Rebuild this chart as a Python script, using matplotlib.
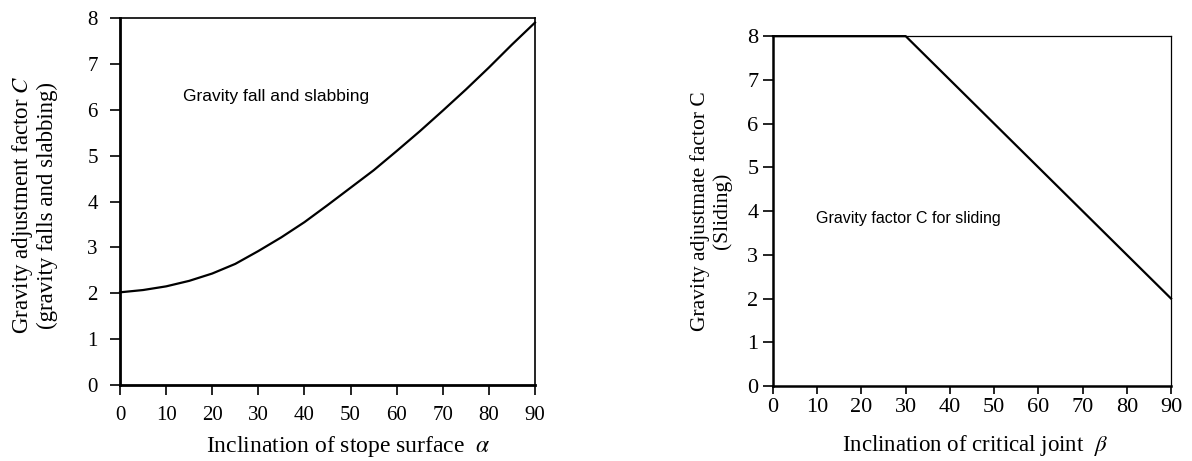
import matplotlib
matplotlib.use("Agg")
import matplotlib.pyplot as plt

plt.rcParams['font.family'] = ['Liberation Serif', 'DejaVu Serif']
plt.rcParams['mathtext.fontset'] = 'stix'

# gravity fall / slabbing curve: C against stope surface inclination
alpha = [0, 5, 10, 15, 20, 25, 30, 35, 40, 45, 50, 55, 60, 65, 70, 75, 80, 85, 90]
c_fall = [2.02, 2.07, 2.15, 2.27, 2.43, 2.64, 2.92, 3.22, 3.55, 3.92, 4.30,
          4.68, 5.10, 5.53, 5.98, 6.44, 6.92, 7.42, 7.90]

# sliding: C against critical joint inclination
beta = [0, 30, 90]
c_slide = [8.0, 8.0, 2.0]

x_ticks = list(range(0, 91, 10))
y_ticks = list(range(0, 9))

fig = plt.figure(figsize=(11.92, 4.61), dpi=100)
ax1 = fig.add_axes([0.1007, 0.1649, 0.3481, 0.796])
ax2 = fig.add_axes([0.6485, 0.1627, 0.3339, 0.7589])


def style_axes(ax, thick, thin, tick_len_x, pad_x, tick_len_y, pad_y, size):
    ax.set_xlim(0, 90)
    ax.set_ylim(0, 8)
    ax.set_xticks(x_ticks)
    ax.set_yticks(y_ticks)
    for side in ('left', 'bottom'):
        ax.spines[side].set_linewidth(thick)
    for side in ('top', 'right'):
        ax.spines[side].set_linewidth(thin)
    ax.tick_params(axis='x', direction='out', length=tick_len_x, width=1.2,
                   pad=pad_x, labelsize=size)
    ax.tick_params(axis='y', direction='out', length=tick_len_y, width=1.2,
                   pad=pad_y, labelsize=size)


style_axes(ax1, 2.0, 1.2, 7, 8, 7, 9, 15)
style_axes(ax2, 1.8, 0.9, 6, 2.5, 7, 3.5, 16)

ax1.plot(alpha, c_fall, color='black', lw=1.6, clip_on=False)
ax1.text(13.7, 6.3, 'Gravity fall and slabbing', family='Liberation Sans',
         fontsize=12.5, va='center', ha='left')
ax1.set_xlabel(r'Inclination of stope surface  $\alpha$', fontsize=17, va='center')
ax1.xaxis.set_label_coords(0.55, -0.169)
ax1.set_ylabel('Gravity adjustment factor $C$\n(gravity falls and slabbing)',
               fontsize=16.5, va='center', multialignment='center', linespacing=1.1)
ax1.yaxis.set_label_coords(-0.207, 0.49)

ax2.plot(beta, c_slide, color='black', lw=1.6, clip_on=False)
ax2.text(9.7, 3.83, 'Gravity factor C for sliding', family='Liberation Sans',
         fontsize=11.5, va='center', ha='left')
ax2.set_xlabel(r'Inclination of critical joint  $\beta$', fontsize=16.5, va='center')
ax2.xaxis.set_label_coords(0.508, -0.169)
ax2.set_ylabel('Gravity adjustmate factor C\n(Sliding)',
               fontsize=15.5, va='center', multialignment='center', linespacing=1.15)
ax2.yaxis.set_label_coords(-0.155, 0.5)

fig.savefig('out.png', dpi=100)
